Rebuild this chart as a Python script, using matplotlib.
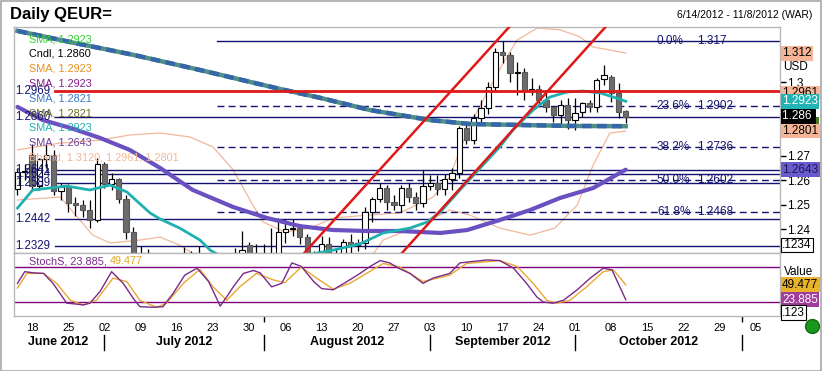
import matplotlib
matplotlib.use("Agg")
import matplotlib.pyplot as plt
import matplotlib.transforms as mtransforms
from matplotlib.patches import Rectangle
from matplotlib.lines import Line2D

plt.rcParams['font.family'] = ['Liberation Sans', 'DejaVu Sans']

# ---------------- data ----------------
dates = ["06-14", "06-15", "06-18", "06-19", "06-20", "06-21", "06-22", "06-25", "06-26", "06-27",
         "06-28", "06-29", "07-02", "07-03", "07-04", "07-05", "07-06", "07-09", "07-10", "07-11",
         "07-12", "07-13", "07-16", "07-17", "07-18", "07-19", "07-20", "07-23", "07-24", "07-25",
         "07-26", "07-27", "07-30", "07-31", "08-01", "08-02", "08-03", "08-06", "08-07", "08-08",
         "08-09", "08-10", "08-13", "08-14", "08-15", "08-16", "08-17", "08-20", "08-21", "08-22",
         "08-23", "08-24", "08-27", "08-28", "08-29", "08-30", "08-31", "09-03", "09-04", "09-05",
         "09-06", "09-07", "09-10", "09-11", "09-12", "09-13", "09-14", "09-17", "09-18", "09-19",
         "09-20", "09-21", "09-24", "09-25", "09-26", "09-27", "09-28", "10-01", "10-02", "10-03",
         "10-04", "10-05", "10-08", "10-09", "10-10"]
opens = [1.2563, 1.2632, 1.2705, 1.2575, 1.2686, 1.2702, 1.2557, 1.2571, 1.2507, 1.2497,
         1.2478, 1.2439, 1.2665, 1.2584, 1.2603, 1.2525, 1.2389, 1.2289, 1.2295, 1.2249,
         1.2243, 1.2206, 1.2244, 1.2290, 1.2267, 1.2276, 1.2282, 1.2157, 1.2117, 1.2066,
         1.2153, 1.2289, 1.2335, 1.2280, 1.2300, 1.2240, 1.2171, 1.2386, 1.2401, 1.2404,
         1.2366, 1.2287, 1.2288, 1.2337, 1.2285, 1.2283, 1.2349, 1.2333, 1.2344, 1.2470,
         1.2523, 1.2568, 1.2510, 1.2498, 1.2568, 1.2531, 1.2506, 1.2575, 1.2590, 1.2562,
         1.2606, 1.2631, 1.2812, 1.2766, 1.2855, 1.2897, 1.2980, 1.3125, 1.3113, 1.3040,
         1.3043, 1.2965, 1.2972, 1.2928, 1.2898, 1.2867, 1.2908, 1.2846, 1.2879, 1.2916,
         1.2900, 1.3014, 1.3022, 1.2955, 1.2883]
highs = [1.2650, 1.2668, 1.2747, 1.2692, 1.2745, 1.2725, 1.2590, 1.2585, 1.2530, 1.2520,
         1.2520, 1.2692, 1.2675, 1.2630, 1.2610, 1.2540, 1.2410, 1.2330, 1.2320, 1.2285,
         1.2260, 1.2255, 1.2300, 1.2327, 1.2310, 1.2330, 1.2290, 1.2170, 1.2135, 1.2174,
         1.2324, 1.2390, 1.2345, 1.2337, 1.2337, 1.2404, 1.2444, 1.2443, 1.2443, 1.2420,
         1.2380, 1.2310, 1.2370, 1.2369, 1.2320, 1.2360, 1.2380, 1.2360, 1.2490, 1.2530,
         1.2590, 1.2580, 1.2540, 1.2580, 1.2590, 1.2550, 1.2640, 1.2620, 1.2620, 1.2625,
         1.2650, 1.2820, 1.2830, 1.2870, 1.2930, 1.3000, 1.3140, 1.3170, 1.3125, 1.3084,
         1.3060, 1.3020, 1.2990, 1.2960, 1.2905, 1.2930, 1.2935, 1.2937, 1.2920, 1.2930,
         1.3018, 1.3072, 1.3030, 1.2997, 1.2887]
lows = [1.2540, 1.2600, 1.2555, 1.2560, 1.2650, 1.2540, 1.2520, 1.2470, 1.2455, 1.2450,
        1.2405, 1.2430, 1.2570, 1.2560, 1.2505, 1.2360, 1.2270, 1.2255, 1.2230, 1.2200,
        1.2163, 1.2190, 1.2230, 1.2240, 1.2240, 1.2250, 1.2145, 1.2067, 1.2042, 1.2060,
        1.2140, 1.2255, 1.2255, 1.2250, 1.2220, 1.2133, 1.2150, 1.2342, 1.2370, 1.2340,
        1.2270, 1.2240, 1.2270, 1.2260, 1.2240, 1.2270, 1.2300, 1.2310, 1.2320, 1.2430,
        1.2510, 1.2480, 1.2480, 1.2470, 1.2510, 1.2480, 1.2490, 1.2560, 1.2540, 1.2540,
        1.2560, 1.2610, 1.2750, 1.2750, 1.2830, 1.2870, 1.2960, 1.3080, 1.3000, 1.2950,
        1.2930, 1.2950, 1.2900, 1.2880, 1.2838, 1.2830, 1.2810, 1.2805, 1.2860, 1.2880,
        1.2880, 1.2990, 1.2920, 1.2853, 1.2834]
closes = [1.2632, 1.2637, 1.2575, 1.2686, 1.2702, 1.2557, 1.2571, 1.2507, 1.2497, 1.2478,
          1.2439, 1.2665, 1.2584, 1.2603, 1.2525, 1.2389, 1.2289, 1.2295, 1.2249, 1.2243,
          1.2206, 1.2244, 1.2290, 1.2267, 1.2276, 1.2282, 1.2157, 1.2117, 1.2066, 1.2153,
          1.2289, 1.2315, 1.2280, 1.2290, 1.2240, 1.2171, 1.2386, 1.2401, 1.2404, 1.2366,
          1.2287, 1.2288, 1.2337, 1.2285, 1.2283, 1.2349, 1.2333, 1.2344, 1.2470, 1.2523,
          1.2568, 1.2510, 1.2498, 1.2568, 1.2531, 1.2506, 1.2575, 1.2590, 1.2562, 1.2606,
          1.2631, 1.2812, 1.2766, 1.2855, 1.2897, 1.2980, 1.3125, 1.3113, 1.3040, 1.3043,
          1.2965, 1.2972, 1.2928, 1.2898, 1.2867, 1.2908, 1.2846, 1.2875, 1.2916, 1.2900,
          1.3010, 1.3030, 1.2955, 1.2879, 1.2860]

# moving averages / bands (bar index, value)
sma200_idx = [0, 8, 16, 25.2, 36.3, 41.8, 48.7, 57, 62.5, 69.4, 76.4, 84]
sma200_val = [1.3211, 1.3161, 1.3113, 1.3051, 1.2973, 1.2937, 1.2887, 1.2846, 1.2830, 1.2826, 1.2822, 1.2821]

sma50_idx = [0, 3.5, 7.3, 11.4, 15.5, 19.7, 24.2, 29.8, 34.5, 39, 43.6, 48.3, 52.8, 58.4, 62.1,
             66.6, 70.8, 74.9, 79.5, 84]
sma50_val = [1.2900, 1.2846, 1.2814, 1.2773, 1.2724, 1.2650, 1.2560, 1.2490, 1.2445, 1.2412,
             1.2396, 1.2392, 1.2392, 1.2384, 1.2396, 1.2437, 1.2478, 1.2527, 1.2568, 1.2643]

sma20_idx = [0, 2.1, 4.5, 6.8, 10, 12.8, 15.1, 18.3, 19.7, 22.4, 25.2, 26.6, 29.4, 33.5, 36.9, 40,
             43.6, 47.3, 50.5, 54.2, 56.6, 58.4, 61.1, 63.9, 66.6, 68.4, 71.2, 73.5, 75.9, 78.1,
             80.5, 82.3, 84]
sma20_val = [1.2486, 1.2560, 1.2568, 1.2576, 1.2560, 1.2580, 1.2552, 1.2466, 1.2441, 1.2404,
             1.2355, 1.2314, 1.2265, 1.2248, 1.2265, 1.2294, 1.2314, 1.2339, 1.2384, 1.2404,
             1.2429, 1.2470, 1.2560, 1.2650, 1.2736, 1.2805, 1.2887, 1.2940, 1.2961, 1.2965,
             1.2957, 1.2940, 1.2923]

bb_up_idx = [0, 5.9, 11.4, 15.5, 19.7, 23.8, 27, 29.8, 32.1, 33.9, 36.9, 40.4, 43.6, 48.3, 52.8,
             57.4, 59.7, 61.1, 62.5, 64.3, 67.1, 69, 71.8, 75, 77.7, 79.5, 81.8, 84]
bb_up_val = [1.2724, 1.2752, 1.2764, 1.2785, 1.2793, 1.2777, 1.2736, 1.2642, 1.2519, 1.2429,
             1.2388, 1.2404, 1.2445, 1.2457, 1.2466, 1.2531, 1.2613, 1.2724, 1.2826, 1.2928,
             1.3080, 1.3174, 1.3223, 1.3215, 1.3186, 1.3145, 1.3133, 1.3120]

bb_lo_idx = [0, 5.9, 10.4, 12.8, 16.9, 19.7, 22.4, 25.2, 30, 40, 47, 50.5, 55.6, 59.7, 62.5,
             66.6, 70.8, 74.2, 77.3, 79.5, 81.8, 84]
bb_lo_val = [1.2519, 1.2531, 1.2375, 1.2343, 1.2355, 1.2367, 1.2334, 1.2281, 1.2050, 1.2150,
             1.2210, 1.2355, 1.2416, 1.2478, 1.2457, 1.2404, 1.2375, 1.2404, 1.2498, 1.2662,
             1.2793, 1.2801]

stk_idx = [0, 1, 2.2, 3.6, 4.9, 6.8, 7.7, 9.1, 10, 11.4, 13, 14.6, 16, 16.9, 18.8, 20.1, 21.5,
           23.1, 24.8, 26.4, 28, 28.9, 29.8, 31.2, 32.6, 33.5, 35.1, 36.5, 37.9, 39.2, 40.9, 42,
           43.6, 45.5, 47.3, 48.7, 50.1, 51.4, 52.6, 54.2, 56, 57.4, 59.7, 61.1, 62.5, 64.8, 66.6,
           68.5, 70.3, 71.7, 72.6, 74, 75.4, 77.3, 79.1, 80.9, 82.1, 84]
stk_val = [52, 72, 70, 69, 52, 18, 17, 15, 18, 38, 72, 52, 26, 12, 11, 12, 35,
           66, 78, 55, 13, 29, 46, 69, 74, 70, 46, 52, 87, 81, 55, 43,
           41, 55, 69, 81, 91, 87, 78, 69, 52, 61, 69, 87, 89, 92, 91,
           78, 52, 29, 20, 18, 23, 41, 61, 78, 75, 23.885]
std_idx = [0, 1.3, 3.6, 5.4, 7.3, 9.1, 10.9, 13.2, 15.1, 16.9, 19.2, 20.6, 22.9, 25.2, 27, 28.9,
           30.7, 33, 35.3, 36.9, 39.2, 41.3, 43.6, 45.9, 48.2, 50.5, 52.8, 56, 59.7, 62, 66.6, 69,
           71.2, 73.1, 74.5, 76.3, 78.6, 80.9, 82.3, 84]
std_val = [44, 69, 69, 52, 23, 15, 23, 61, 55, 23, 11, 18, 52, 76, 46, 23,
           46, 69, 58, 53, 80, 61, 42, 52, 69, 86, 80, 55, 66, 86, 91, 81,
           52, 23, 18, 23, 46, 72, 75, 49.477]

fib_pct = ["0.0%", "23.6%", "38.2%", "50.0%", "61.8%"]
fib_lvl = [1.317, 1.2902, 1.2736, 1.2602, 1.2468]
fib_txt = ["1.317", "1.2902", "1.2736", "1.2602", "1.2468"]
fib_start = 27.6

sr_lvl = [1.2860, 1.2641, 1.2624, 1.2589, 1.2442, 1.2329]
sr_lbl = ["1.2860", "1.2641", "1.2624", "1.2589", "1.2442", "1.2329"]
red_lvl = 1.2967
red_lbl = "1.2969"
sr_start = 5.2

chan1_idx = [39.6, 67.9]
chan1_val = [1.2302, 1.3227]
chan2_idx = [53.1, 81.2]
chan2_val = [1.2302, 1.3227]

week_idx = [2 + 5 * k for k in range(21)]
week_lbl = ["18", "25", "02", "09", "16", "23", "30", "06", "13", "20", "27", "03", "10", "17",
            "24", "01", "08", "15", "22", "29", "05"]
month_start = [12, 34, 57, 77, 100]
month_lbl = ["June 2012", "July 2012", "August 2012", "September 2012", "October 2012"]
month_ctr = [5.6, 23.0, 45.5, 67.0, 88.5]

# ---------------- figure ----------------
W, H = 823, 371
fig = plt.figure(figsize=(W / 100, H / 100), dpi=100)
fig.patch.set_facecolor('white')
fig.add_artist(Rectangle((0.001, 0.001), 0.997, 0.997, transform=fig.transFigure,
                         fill=False, ec='#a8a8a8', lw=1.2))

L, R = 14, 780
ax = fig.add_axes([L / W, 1 - 253 / H, (R - L) / W, (253 - 27) / H])
ax2 = fig.add_axes([L / W, 1 - 316 / H, (R - L) / W, (316 - 253) / H], sharex=ax)

for a in (ax, ax2):
    for s in a.spines.values():
        s.set_color('#b8b8b8')
        s.set_linewidth(1)

xmin, xmax = -0.48, 105.3
ax.set_xlim(xmin, xmax)
ax.set_ylim(1.2302, 1.3227)

navy = '#14146e'

# bollinger bands
ax.plot(bb_up_idx, bb_up_val, color='#f2b89a', lw=0.9, zorder=1)
ax.plot(bb_lo_idx, bb_lo_val, color='#f2b89a', lw=0.9, zorder=1)

# horizontal S/R lines
for lv in sr_lvl:
    ax.plot([sr_start, xmax], [lv, lv], color=navy, lw=1.0, zorder=2)
for lv, pct in zip(fib_lvl, fib_pct):
    ls = '-' if pct == "0.0%" else (0, (5, 3))
    ax.plot([fib_start, xmax], [lv, lv], color=navy, lw=1.0, ls=ls, zorder=2)
ax.plot([sr_start, xmax], [red_lvl, red_lvl], color='#e01818', lw=2.0, zorder=6)

# candles
for i, (o, h, l, c) in enumerate(zip(opens, highs, lows, closes)):
    ax.plot([i, i], [l, h], color='black', lw=0.9, zorder=3, solid_capstyle='butt')
    up = c >= o
    body = max(abs(c - o), 0.00008)
    ax.add_patch(Rectangle((i - 0.36, min(o, c)), 0.72, body,
                           fc='white' if up else '#6c6c6c',
                           ec='black' if up else '#585858', lw=0.8, zorder=4))

# moving averages
ax.plot(sma50_idx, sma50_val, color='#6a50c0', lw=3.0, zorder=5, solid_capstyle='round')
ax.plot(sma20_idx, sma20_val, color='#20b0b0', lw=2.0, zorder=5)
ax.plot(sma200_idx, sma200_val, color='#4f8f86', lw=3.2, zorder=5)
ax.plot(sma200_idx, sma200_val, color='#3466a8', lw=3.2, ls=(0, (2.2, 1.2)), zorder=5)

# channel
ax.plot(chan1_idx, chan1_val, color='#e01818', lw=1.8, zorder=6)
ax.plot(chan2_idx, chan2_val, color='#e01818', lw=1.8, zorder=6)

# fib labels
for lv, pct, tx in zip(fib_lvl, fib_pct, fib_txt):
    ax.text(88.3, lv, pct, color=navy, fontsize=8.5, va='center', ha='left', zorder=7)
    ax.text(93.9, lv, tx, color=navy, fontsize=8.5, va='center', ha='left', zorder=7)

# left labels of S/R
for lv, lb in zip(sr_lvl, sr_lbl):
    ax.text(-0.25, lv, lb, color=navy, fontsize=8.3, va='center', ha='left', zorder=7)
ax.text(-0.25, red_lvl, red_lbl, color=navy, fontsize=8.3, va='center', ha='left', zorder=7)

# right axis
ax.yaxis.tick_right()
ax.set_yticks([1.24, 1.25, 1.26, 1.27, 1.30])
ax.set_yticklabels(["1.24", "1.25", "1.26", "1.27", "1.3"])
ax.tick_params(axis='y', length=4, width=1, pad=1, labelsize=8.5, colors='black')
ax.tick_params(axis='x', bottom=False, labelbottom=False)

blend = mtransforms.blended_transform_factory(ax.transAxes, ax.transData)
bx = (782 - L) / (R - L)
def box(a, tr, y, txt, fc, tc, ec='none'):
    a.text(bx, y, txt, transform=tr, fontsize=8.5, color=tc, va='center', ha='left',
           clip_on=False, zorder=10,
           bbox=dict(boxstyle='square,pad=0.12', fc=fc, ec=ec, lw=0.8))

ax.text(bx + 0.002, 1.3064, "USD", transform=blend, fontsize=8.5, va='center', ha='left', clip_on=False)
box(ax, blend, 1.3120, "1.312", '#f5b596', 'black')
box(ax, blend, 1.2957, "1.2961", '#f5b596', 'black')
box(ax, blend, 1.2923, "1.2923", '#22b4b4', 'white')
box(ax, blend, 1.2828, "1.2821", '#4a7a26', 'white')
box(ax, blend, 1.2862, "1.286 ", 'black', 'white')
box(ax, blend, 1.2801, "1.2801", '#f5b596', 'black')
box(ax, blend, 1.2643, "1.2643", '#6a5acd', '#1a1a50')
box(ax, blend, 1.2335, ".1234", 'white', 'black', ec='black')

# overlay legend (main)
leg = [("SMA, 1.2923", '#30d030'), ("Cndl, 1.2860", 'black'), ("SMA, 1.2923", '#e8901c'),
       ("SMA, 1.2923", '#8a1a8a'), ("SMA, 1.2821", '#3a78c8'), ("SMA, 1.2821", '#6b6b20'),
       ("SMA, 1.2923", '#20b0b0'), ("SMA, 1.2643", '#6a3d9a'),
       ("Bband, 1.3120, 1.2961, 1.2801", '#f0b898')]
for k, (t, c) in enumerate(leg):
    fig.text(29 / W, 1 - (39 + 14.8 * k) / H, t, color=c, fontsize=7.8, va='center', ha='left', zorder=8)

# ---------------- stochastics ----------------
ax2.set_ylim(-4, 104)
ax2.axhline(80, color='#800080', lw=1.0)
ax2.axhline(20, color='#800080', lw=1.0)
ax2.plot(std_idx, std_val, color='#e8a830', lw=1.0)
ax2.plot(stk_idx, stk_val, color='#7a2a8a', lw=1.0)
ax2.set_yticks([])
ax2.set_xticks(week_idx)
ax2.set_xticklabels(week_lbl)
ax2.set_xticks(month_start, minor=True)
ax2.tick_params(axis='x', which='major', length=0, pad=5, labelsize=8)
ax2.tick_params(axis='x', which='minor', length=4, width=1, color='black')

blend2 = mtransforms.blended_transform_factory(ax2.transAxes, ax2.transData)
ax2.text(bx + 0.002, 72, "Value", transform=blend2, fontsize=8.5, va='center', ha='left', clip_on=False)
box(ax2, blend2, 49.477, "49.477", '#e8b22a', 'black')
box(ax2, blend2, 23.885, "23.885", '#a03c9c', 'white')
box(ax2, blend2, 1.5, ".123", 'white', 'black', ec='black')

t1 = fig.text(29 / W, 1 - 261 / H, "StochS, 23.885, ", color='#7a2a8a', fontsize=7.8,
              va='center', ha='left')
fig.canvas.draw()
bb = t1.get_window_extent()
fig.text(bb.x1 / W, 1 - 261 / H, "49.477", color='#e0a820', fontsize=7.8, va='center', ha='left')

bx2 = mtransforms.blended_transform_factory(ax2.transData, ax2.transAxes)
for m in month_start:
    ax2.plot([m, m], [-0.30, -0.54], transform=bx2, color='black', lw=1.0, clip_on=False)
for c, t in zip(month_ctr, month_lbl):
    ax2.text(c, -0.41, t, transform=bx2, fontsize=9, fontweight='bold', ha='center', va='center')

fig.add_artist(Line2D([812 / W], [1 - 326 / H], transform=fig.transFigure, marker='o',
                      markersize=10, markerfacecolor='#18961e', markeredgecolor='#107010', ls='none'))

fig.text(10 / W, 1 - 14 / H, "Daily QEUR=", fontsize=12, fontweight='bold', va='center', ha='left')
fig.text(812 / W, 1 - 15 / H, "6/14/2012 - 11/8/2012 (WAR)", fontsize=7.5, va='center', ha='right')

fig.savefig("out.png", dpi=100)
